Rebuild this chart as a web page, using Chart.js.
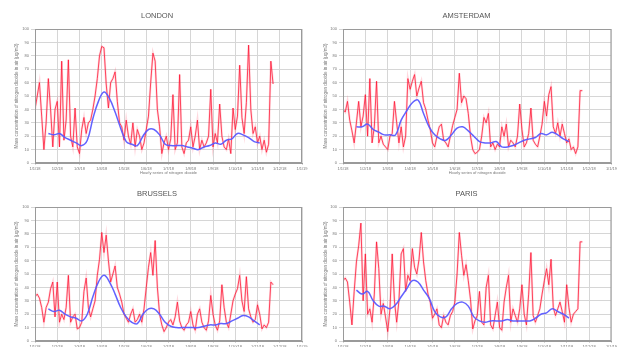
<!DOCTYPE html>
<html>
<head>
<meta charset="utf-8">
<script src="https://cdn.jsdelivr.net/npm/chart.js@4.4.1/dist/chart.umd.min.js"></script>
<style>
  html, body { margin: 0; padding: 0; background: #fff; overflow: hidden; }
  body { width: 618px; height: 347px; position: relative; }
  canvas { position: absolute; }
</style>
</head>
<body>
<canvas id="london" width="309" height="175" style="left:0;top:0"></canvas>
<canvas id="amsterdam" width="309" height="175" style="left:309px;top:0"></canvas>
<canvas id="brussels" width="309" height="178" style="left:0;top:175px"></canvas>
<canvas id="paris" width="309" height="178" style="left:309px;top:175px"></canvas>
<script>
// Monatsachse (0..12), Beschriftungen
const monthLabels = ['1/1/18', '1/2/18', '1/3/18', '1/4/18', '1/5/18', '1/6/18', '1/7/18',
    '1/8/18', '1/9/18', '1/10/18', '1/11/18', '1/12/18', '1/1/19'];
const yTicks = [0, 10, 20, 30, 40, 50, 60, 70, 80, 90, 100];

const hourlyStep = 0.1;
const londonHourly = [40, 50, 60, 35, 10, 30, 63, 40, 12, 40, 46, 12, 76, 17, 32, 77, 20, 12, 41, 12,
    7, 25, 34, 22, 30, 32, 40, 50, 63, 80, 87, 86, 59, 41, 60, 63, 68, 46, 30, 27,
    17, 32, 20, 14, 30, 12, 25, 20, 10, 15, 25, 35, 60, 82, 76, 40, 27, 7, 15, 20,
    10, 18, 51, 10, 15, 66, 12, 7, 15, 17, 27, 12, 20, 32, 10, 17, 12, 15, 20, 55,
    12, 22, 15, 44, 20, 12, 10, 18, 7, 41, 25, 35, 73, 34, 22, 45, 88, 40, 22, 27,
    15, 20, 10, 17, 8, 14, 76, 59];
const amsterdamHourly = [40, 38, 46, 32, 24, 15, 30, 46, 27, 35, 51, 20, 63, 15, 27, 61, 15, 20, 14, 12,
    10, 20, 22, 46, 30, 15, 27, 12, 20, 63, 55, 61, 66, 50, 56, 61, 45, 40, 32, 25,
    15, 12, 20, 27, 29, 17, 15, 12, 20, 28, 34, 40, 67, 45, 50, 48, 37, 20, 10, 7,
    8, 10, 20, 34, 30, 37, 12, 15, 10, 14, 12, 27, 20, 29, 12, 17, 15, 12, 20, 44,
    25, 12, 15, 22, 41, 17, 14, 12, 20, 29, 46, 35, 51, 57, 27, 22, 30, 20, 29, 22,
    15, 18, 10, 12, 7, 12, 54, 54];
const brusselsHourly = [33, 35, 32, 25, 14, 25, 29, 39, 44, 18, 44, 14, 20, 16, 25, 49, 14, 18, 20, 9,
    10, 14, 37, 47, 25, 18, 24, 30, 49, 61, 81, 66, 79, 60, 44, 50, 56, 40, 35, 29,
    20, 17, 14, 20, 24, 14, 16, 20, 14, 24, 40, 55, 66, 49, 75, 40, 20, 12, 7, 10,
    14, 16, 12, 18, 29, 15, 10, 8, 12, 14, 22, 12, 8, 20, 24, 14, 10, 8, 15, 34,
    20, 12, 8, 15, 42, 25, 14, 10, 20, 30, 35, 39, 49, 30, 22, 48, 24, 18, 14, 16,
    27, 20, 9, 12, 10, 14, 44, 42];
const parisHourly = [45, 47, 44, 29, 12, 37, 59, 71, 88, 30, 65, 20, 24, 14, 35, 74, 54, 20, 28, 18,
    7, 24, 65, 30, 14, 30, 65, 69, 37, 49, 45, 69, 55, 50, 61, 81, 59, 45, 35, 29,
    17, 20, 24, 12, 10, 19, 14, 12, 19, 22, 29, 50, 81, 64, 49, 57, 45, 31, 9, 15,
    19, 37, 14, 12, 40, 49, 12, 9, 19, 29, 10, 8, 29, 40, 49, 14, 24, 19, 14, 24,
    42, 20, 12, 35, 66, 19, 14, 19, 24, 35, 45, 54, 42, 61, 25, 19, 24, 29, 22, 14,
    42, 25, 14, 20, 22, 24, 74, 74];

// Geglättete Kurve (alle 0.25 Monat ab 0.6)
const smoothStart = 0.6;
const smoothStep = 0.25;
const londonSmooth = [22, 21, 22, 19, 17, 15, 13, 17, 33, 46, 53, 48, 38, 26, 16, 14, 13, 20, 25, 25,
    21, 14, 13, 13, 13, 12, 11, 10, 12, 13, 15, 14, 17, 18, 22, 21, 19, 16, 15];
const amsterdamSmooth = [27, 27, 29, 25, 23, 21, 21, 21, 32, 39, 45, 47, 37, 27, 21, 18, 17, 21, 26, 27,
    24, 20, 16, 15, 15, 16, 12, 12, 13, 15, 17, 18, 19, 22, 21, 23, 21, 18, 16];
const brusselsSmooth = [24, 22, 23, 20, 18, 17, 15, 20, 33, 44, 49, 44, 35, 25, 18, 14, 13, 20, 24, 24,
    20, 14, 11, 10, 10, 10, 10, 10, 11, 12, 12, 13, 13, 15, 17, 19, 18, 15, 12];
const parisSmooth = [38, 35, 37, 30, 26, 26, 24, 27, 33, 39, 45, 44, 38, 32, 22, 18, 18, 24, 28, 29,
    26, 18, 15, 14, 15, 15, 15, 16, 15, 15, 15, 15, 17, 20, 21, 24, 22, 20, 17];

const yTitle = 'Mass concentration of nitrogen dioxide in air (µg/m3)';
const xTitle = 'Hourly series of nitrogen dioxide';

// Rahmen um die Zeichenfläche
const frame = {
    id: 'frame',
    afterDraw(chart) {
        const a = chart.chartArea;
        const ctx = chart.ctx;
        ctx.save();
        ctx.strokeStyle = '#9a9a9a';
        ctx.lineWidth = 1;
        ctx.strokeRect(a.left + 0.5, a.top + 0.5, a.right - a.left - 1, a.bottom - a.top - 1);
        ctx.restore();
    }
};

function toPoints(values, start, step) {
    return values.map((v, i) => ({ x: start + i * step, y: v }));
}

function createPanel(id, title, hourly, smooth, opts) {
    const ctx = document.getElementById(id).getContext('2d');
    new Chart(ctx, {
        type: 'line',
        data: {
            datasets: [{
                data: toPoints(smooth, smoothStart, smoothStep),
                borderColor: 'rgba(90, 90, 255, 0.95)',
                borderWidth: 1.5,
                tension: 0.4,
                pointRadius: 0
            }, {
                // dünne rote Linie der Stundenwerte
                data: toPoints(hourly, 0, hourlyStep),
                borderColor: 'rgba(255, 20, 50, 0.85)',
                borderWidth: 0.9,
                tension: 0,
                pointRadius: 0
            }, {
                // heller Schleier um die Stundenwerte
                data: toPoints(hourly, 0, hourlyStep),
                borderColor: 'rgba(255, 60, 90, 0.2)',
                borderWidth: 2.2,
                tension: 0,
                pointRadius: 0
            }]
        },
        options: {
            responsive: false,
            animation: false,
            layout: { padding: { left: 12, right: opts.right, bottom: 0 } },
            plugins: {
                legend: { display: false },
                tooltip: { enabled: false },
                title: {
                    display: true,
                    text: title,
                    color: '#555',
                    font: { family: 'Arial, Liberation Sans', size: 7.5, weight: 'normal' },
                    padding: { top: opts.titleTop, bottom: 9 }
                }
            },
            scales: {
                x: {
                    type: 'linear',
                    min: 0,
                    max: 12,
                    afterBuildTicks: s => { s.ticks = monthLabels.map((l, i) => ({ value: i })); },
                    afterFit: s => { s.height = 12; },
                    ticks: {
                        color: '#777',
                        font: { size: 4 },
                        padding: 1,
                        maxRotation: 0,
                        autoSkip: false,
                        callback: (v, i) => monthLabels[i]
                    },
                    grid: { color: '#d6d6d6', tickLength: 2 },
                    border: { color: '#9a9a9a' },
                    title: {
                        display: true,
                        text: xTitle,
                        color: '#777',
                        font: { size: 4 },
                        padding: { top: 0, bottom: 0 }
                    }
                },
                y: {
                    min: 0,
                    max: 100,
                    afterBuildTicks: s => { s.ticks = yTicks.map(v => ({ value: v })); },
                    afterFit: s => { s.width = opts.yWidth; },
                    ticks: {
                        color: '#777',
                        font: { size: 4 },
                        padding: 2
                    },
                    grid: { color: '#d6d6d6', tickLength: 4 },
                    border: { color: '#9a9a9a' },
                    title: {
                        display: true,
                        text: yTitle,
                        color: '#777',
                        font: { size: 4.5 },
                        padding: { top: 2, bottom: 2 }
                    }
                }
            }
        },
        plugins: [frame]
    });
}

createPanel('london', 'LONDON', londonHourly, londonSmooth, { right: 7, yWidth: 23, titleTop: 11 });
createPanel('amsterdam', 'AMSTERDAM', amsterdamHourly, amsterdamSmooth, { right: 6, yWidth: 22, titleTop: 11 });
createPanel('brussels', 'BRUSSELS', brusselsHourly, brusselsSmooth, { right: 7, yWidth: 23, titleTop: 14 });
createPanel('paris', 'PARIS', parisHourly, parisSmooth, { right: 6, yWidth: 22, titleTop: 14 });
</script>
</body>
</html>
